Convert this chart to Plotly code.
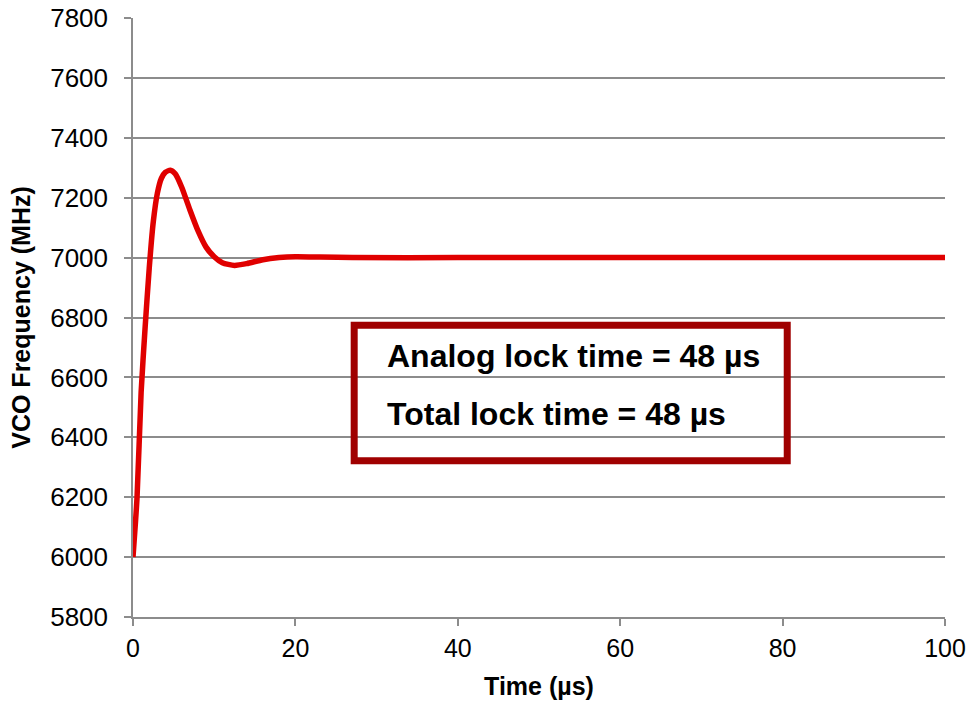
import plotly.graph_objects as go

time_us = [0, 0.5, 1.0, 1.5, 2.0, 2.5, 3.0, 3.5, 4.0, 4.6, 5.2, 6.0, 7.0, 8.0, 9.0,
           10.0, 11.0, 12.5, 14.0, 16.0, 18.0, 20.0, 23.0, 27.0, 40.0, 60.0, 80.0, 100.0]
freq_mhz = [6000, 6200, 6550, 6770, 6965, 7120, 7215, 7265, 7285, 7292, 7280, 7235, 7160, 7090, 7035,
            7003, 6983, 6974, 6980, 6993, 7000, 7003, 7002, 7000, 7000, 7000, 7000, 7000]

x_ticks = [0, 20, 40, 60, 80, 100]
y_ticks = [5800, 6000, 6200, 6400, 6600, 6800, 7000, 7200, 7400, 7600, 7800]
box_lines = ["Analog lock time = 48 µs", "Total lock time = 48 µs"]

grid = "#8c8c8c"
fig = go.Figure()
fig.add_trace(go.Scatter(x=time_us, y=freq_mhz, mode="lines",
                         line=dict(color="#e00000", width=5.5, shape="spline", smoothing=0.6),
                         hoverinfo="skip"))

fig.update_layout(
    width=969, height=703,
    margin=dict(l=133, r=24, t=18, b=86),
    paper_bgcolor="white", plot_bgcolor="white",
    showlegend=False,
    font=dict(family="Liberation Sans, Arial, sans-serif", color="black"),
)
fig.update_xaxes(
    range=[0, 100], tickvals=x_ticks, ticks="outside", ticklen=7, tickcolor=grid, tickwidth=1.5,
    showgrid=False, zeroline=False, showline=True, linecolor=grid, linewidth=1.5,
    tickfont=dict(size=25), ticklabelstandoff=1, automargin=False,
    title=dict(text="<b>Time (µs)</b>", font=dict(size=25), standoff=17),
)
fig.update_yaxes(
    range=[5800, 7800], tickvals=y_ticks, ticks="outside", ticklen=7, tickcolor=grid, tickwidth=1.5,
    showgrid=True, gridcolor=grid, gridwidth=1.5, zeroline=False,
    showline=True, linecolor=grid, linewidth=1.5,
    tickfont=dict(size=26), ticklabelstandoff=11, automargin=False,
    title=dict(text="<b>VCO Frequency (MHz)</b>", font=dict(size=25), standoff=12),
)

fig.add_shape(type="rect", xref="paper", yref="paper",
              x0=0.2724, x1=0.8057, y0=0.2608, y1=0.4871,
              line=dict(color="#a00000", width=7), fillcolor="rgba(0,0,0,0)")
for i, txt in enumerate(box_lines):
    fig.add_annotation(xref="paper", yref="paper", x=(388 - 133) / 812,
                       y=(617 - (356 + 58 * i)) / 599,
                       text="<b>" + txt + "</b>", showarrow=False,
                       xanchor="left", yanchor="middle", xshift=-3,
                       font=dict(size=32, color="black"))

fig.write_html("out.html")
